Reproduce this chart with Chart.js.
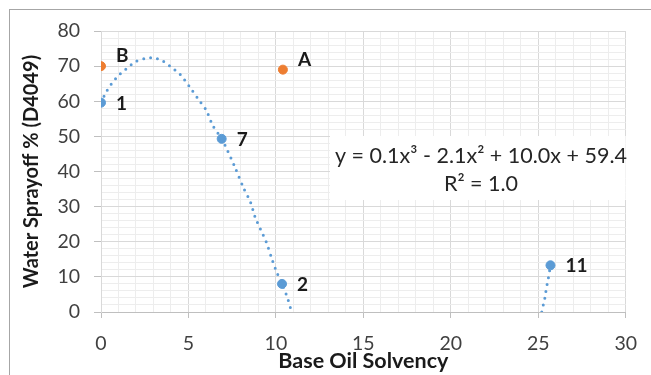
<!DOCTYPE html>
<html>
<head>
<meta charset="utf-8">
<script src="https://cdn.jsdelivr.net/npm/chart.js@4"></script>
<style>
html, body { margin: 0; padding: 0; background: #fff; }
#wrap { position: relative; width: 651px; height: 375px; overflow: hidden; }
#frame { position: absolute; left: 9px; top: 9px; width: 700px; height: 420px; border: 1px solid #a6a6a6; box-sizing: border-box; }
canvas { position: absolute; left: 0; top: 0; }
</style>
</head>
<body>
<div id="wrap">
  <div id="frame"></div>
  <canvas id="chart" width="651" height="375"></canvas>
</div>
<script>
// measured samples
const blueX = [0, 6.9, 10.35, 25.7];
const blueY = [59.6, 49.3, 8.0, 13.3];
const blueNames = ['1', '7', '2', '11'];

const orangeX = [0, 10.4];
const orangeY = [70, 69];
const orangeNames = ['B', 'A'];

// dotted trend line (two visible pieces)
const trendX1 = [0, 0.35, 0.88, 1.44, 2.0, 2.56, 2.97, 3.49, 3.96, 4.53, 5.08, 5.55, 6.02, 6.39, 6.9, 7.23, 7.61, 8.17, 8.54, 8.82, 9.1, 9.48, 9.76, 10.04, 10.36, 10.7, 10.9];
const trendY1 = [59.6, 63.1, 66.7, 69.2, 71.3, 72.2, 72.4, 71.6, 69.9, 67.6, 64.0, 60.7, 57.4, 53.1, 49.3, 46.0, 41.8, 35.1, 31.4, 26.9, 23.8, 19.5, 15.3, 11.4, 8.0, 3.4, 0];
const trendX2 = [25.2, 25.31, 25.4, 25.46, 25.56, 25.7];
const trendY2 = [0, 2.5, 4.5, 6.7, 9.1, 13.3];

const xTicks = [0, 5, 10, 15, 20, 25, 30];
const yTicks = [0, 10, 20, 30, 40, 50, 60, 70, 80];

const equation = 'y = 0.1x\u00b3 - 2.1x\u00b2 + 10.0x + 59.4';
const rSquared = 'R\u00b2 = 1.0';

const BLUE = '#5b9bd5';
const ORANGE = '#ed7d31';
const FONT = 'Lato, "Open Sans", sans-serif';

function pts(xs, ys) {
    return xs.map((x, i) => ({ x: x, y: ys[i] }));
}

const annotate = {
    id: 'annotate',
    beforeDatasetsDraw(chart) {
        const { ctx, chartArea } = chart;
        ctx.save();
        ctx.fillStyle = '#ffffff';
        ctx.fillRect(330, 136, chartArea.right - 330, 64);
        ctx.restore();
    },
    afterDatasetsDraw(chart) {
        const { ctx } = chart;
        ctx.save();
        ctx.fillStyle = '#262626';
        ctx.font = '21.5px ' + FONT;
        ctx.textAlign = 'center';
        ctx.textBaseline = 'middle';
        ctx.fillText(equation, 481, 156);
        ctx.fillText(rSquared, 481, 184);

        ctx.font = 'bold 19px ' + FONT;
        ctx.textAlign = 'left';
        ctx.fillStyle = '#1a1a1a';
        chart.data.datasets.forEach((ds, di) => {
            if (!ds.names) return;
            const meta = chart.getDatasetMeta(di);
            meta.data.forEach((el, i) => {
                ctx.fillText(ds.names[i], el.x + 15, el.y + ds.labelDy);
            });
        });
        ctx.restore();
    }
};

new Chart(document.getElementById('chart'), {
    type: 'scatter',
    data: {
        datasets: [
            {
                data: pts(blueX, blueY),
                names: blueNames,
                labelDy: 1,
                backgroundColor: BLUE,
                borderColor: BLUE,
                pointRadius: 4.5
            },
            {
                data: pts(orangeX, orangeY),
                names: orangeNames,
                labelDy: -10,
                backgroundColor: ORANGE,
                borderColor: ORANGE,
                pointRadius: 4.5
            },
            {
                data: pts(trendX1, trendY1),
                showLine: true,
                pointRadius: 0,
                borderColor: BLUE,
                borderWidth: 3,
                borderDash: [0, 7],
                borderCapStyle: 'round',
                tension: 0.3
            },
            {
                data: pts(trendX2, trendY2),
                showLine: true,
                pointRadius: 0,
                borderColor: BLUE,
                borderWidth: 3,
                borderDash: [0, 7],
                borderCapStyle: 'round',
                tension: 0.3
            }
        ]
    },
    options: {
        responsive: false,
        animation: false,
        layout: { padding: { left: 0, right: 15, top: 31, bottom: 0 } },
        plugins: { legend: { display: false }, tooltip: { enabled: false } },
        scales: {
            x: {
                type: 'linear',
                min: 0,
                max: 30,
                afterFit: s => { s.height = 63; },
                afterBuildTicks: s => {
                    s.ticks = [];
                    for (let v = 0; v <= 30; v++) s.ticks.push({ value: v });
                },
                ticks: {
                    autoSkip: false,
                    maxRotation: 0,
                    padding: 14,
                    color: '#404040',
                    font: { family: FONT, size: 19.5 },
                    callback: v => xTicks.includes(v) ? String(v) : ''
                },
                grid: {
                    color: c => xTicks.includes(c.tick.value) ? '#d9d9d9' : '#ededed',
                    tickColor: c => xTicks.includes(c.tick.value) ? '#bfbfbf' : 'rgba(0,0,0,0)',
                    tickLength: 6
                },
                border: { color: '#bfbfbf' },
                title: {
                    display: true,
                    text: 'Base Oil Solvency',
                    color: '#1a1a1a',
                    font: { family: FONT, size: 21.5, weight: 'bold' },
                    padding: { top: 0, bottom: 1 }
                }
            },
            y: {
                min: 0,
                max: 80,
                afterFit: s => { s.width = 101; },
                afterBuildTicks: s => {
                    s.ticks = [];
                    for (let v = 0; v <= 80; v += 2) s.ticks.push({ value: v });
                },
                ticks: {
                    autoSkip: false,
                    padding: 14,
                    color: '#404040',
                    font: { family: FONT, size: 19.5 },
                    callback: v => yTicks.includes(v) ? String(v) : ''
                },
                grid: {
                    color: c => yTicks.includes(c.tick.value) ? '#d9d9d9' : '#ededed',
                    tickColor: c => yTicks.includes(c.tick.value) ? '#bfbfbf' : 'rgba(0,0,0,0)',
                    tickLength: 7
                },
                border: { color: '#d9d9d9' },
                title: {
                    display: true,
                    text: 'Water Sprayoff % (D4049)',
                    color: '#1a1a1a',
                    font: { family: FONT, size: 20, weight: 'bold' },
                    padding: { top: 20, bottom: 0 }
                }
            }
        }
    },
    plugins: [annotate]
});
</script>
</body>
</html>
